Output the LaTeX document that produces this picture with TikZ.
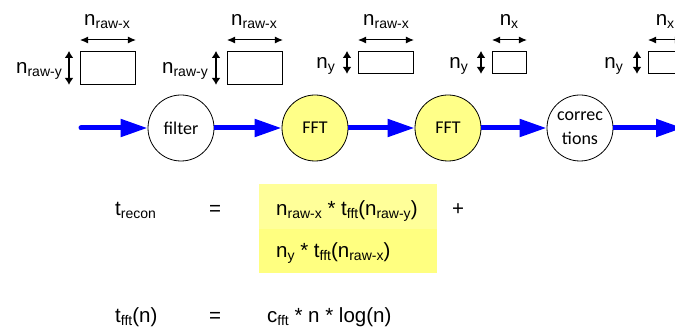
\documentclass[tikz,border=0pt]{standalone}
\usepackage{fontspec}
\setmainfont{Liberation Sans}
\newfontfamily\carl{Carlito}
\usetikzlibrary{arrows.meta}
\definecolor{fftyellow}{HTML}{FFFF88}
\definecolor{ytop}{HTML}{FFFF99}
\definecolor{ybot}{HTML}{FFFF80}
\newcommand\sbx[1]{\raisebox{-3pt}{\fontsize{14}{14}\selectfont #1}}
\begin{document}
\begin{tikzpicture}[x=1pt,y=-1pt,
  font=\fontsize{20.5}{24}\selectfont,
  box/.style={draw, line width=0.9pt, inner sep=0pt, anchor=north west},
  dimh/.style={{Latex[length=8pt,width=7pt]}-{Latex[length=8pt,width=7pt]}, line width=1pt},
  dimv/.style={{Latex[length=7pt,width=9pt]}-{Latex[length=7pt,width=9pt]}, line width=1.8pt},
  flow/.style={blue, line width=5pt, -{Triangle[length=27pt,width=17pt]}},
  proc/.style={circle, draw, line width=0.8pt, minimum size=66pt, inner sep=0pt,
    font=\carl\fontsize{18}{24}\selectfont, align=center},
  fftc/.style={proc, fill=fftyellow},
  lbl/.style={anchor=base, inner sep=0pt}
]
\useasboundingbox (0,0) rectangle (675,331);
\clip (0,0) rectangle (675,331);

% rectangles
\node[box, minimum width=55pt, minimum height=33pt] (r1) at (80,51) {};
\node[box, minimum width=55pt, minimum height=33pt] (r2) at (227,51) {};
\node[box, minimum width=55pt, minimum height=22pt] (r3) at (358,51) {};
\node[box, minimum width=34pt, minimum height=22pt] (r4) at (492,51) {};
\node[box, minimum width=34pt, minimum height=22pt] (r5) at (648,51) {};

% dimension arrows
\foreach \r in {r1,r2,r3,r4,r5}{
  \draw[dimh] ([yshift=11pt]\r.north west) -- ([yshift=11pt]\r.north east);
  \draw[dimv] ([xshift=-11pt]\r.north west) -- ([xshift=-11pt]\r.south west);
}

% labels
\node[lbl] (lx1) at (107,26) {n\sbx{raw-x}};
\node[lbl] (lx2) at (254,26) {n\sbx{raw-x}};
\node[lbl] (lx3) at (386,26) {n\sbx{raw-x}};
\node[lbl] (lx4) at (509,26) {n\sbx{x}};
\node[lbl] (lx5) at (665,26) {n\sbx{x}};
\node[lbl, anchor=base east] (ly1) at (62,74) {n\sbx{raw-y}};
\node[lbl, anchor=base east] (ly2) at (208,74) {n\sbx{raw-y}};
\node[lbl, anchor=base east] (ly3) at (335,69) {n\sbx{y}};
\node[lbl, anchor=base east] (ly4) at (468,69) {n\sbx{y}};
\node[lbl, anchor=base east] (ly5) at (623,69) {n\sbx{y}};

% process circles
\node[proc] (filter) at (181,128) {filter};
\node[fftc] (fft1) at (315,128) {FFT};
\node[fftc] (fft2) at (448,128) {FFT};
\node[proc] (corr) at (580,128) {correc\\[0pt]tions};

\coordinate (in) at (81,128);
\coordinate (out) at (683,128);
\draw[flow, line cap=round] (in) -- (filter);
\draw[flow] (filter) -- (fft1);
\draw[flow] (fft1) -- (fft2);
\draw[flow] (fft2) -- (corr);
\draw[flow] (corr) -- (out);

% yellow box
\node[box, draw=none, fill=ytop, minimum width=178pt, minimum height=45pt] (yb1) at (259,184) {};
\node[box, draw=none, fill=ybot, minimum width=178pt, minimum height=44pt] (yb2) at (259,229) {};

% formulas
\node[lbl, anchor=base west] (trecon) at (115,216) {t\sbx{recon}};
\node[lbl] (eq1) at (215,216) {=};
\node[lbl, anchor=base west] (term1) at (276,216) {n\sbx{raw-x} * t\sbx{fft}(n\sbx{raw-y})};
\node[lbl] (plus) at (458,216) {+};
\node[lbl, anchor=base west] (term2) at (276,258) {n\sbx{y} * t\sbx{fft}(n\sbx{raw-x})};
\node[lbl, anchor=base west] (tfft) at (115,322) {t\sbx{fft}(n)};
\node[lbl] (eq2) at (215,322) {=};
\node[lbl, anchor=base west] (cfft) at (267,322) {c\sbx{fft} * n * log(n)};
\end{tikzpicture}
\end{document}
